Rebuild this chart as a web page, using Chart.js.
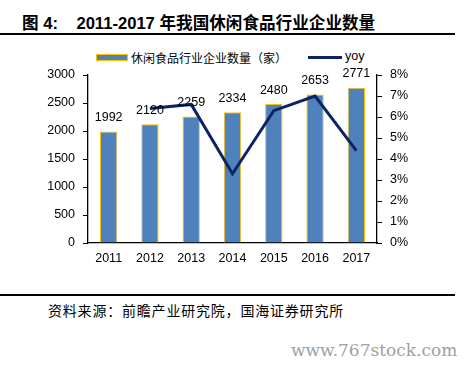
<!DOCTYPE html>
<html>
<head>
<meta charset="utf-8">
<script src="https://cdn.jsdelivr.net/npm/chart.js@4.4.1/dist/chart.umd.min.js"></script>
<style>
  html, body { margin: 0; padding: 0; background: #fff; }
  #wrap { position: relative; width: 471px; height: 369px; overflow: hidden; }
  canvas { position: absolute; left: 0; top: 0; }
  .txt { position: absolute; white-space: nowrap; color: #000; }
  .rule { position: absolute; left: 0; width: 455px; height: 1.5px; background: #000; }
</style>
</head>
<body>
<div id="wrap">
  <div class="txt" id="title" style="left:22px; top:10px; font: bold 16.6px 'Liberation Sans', 'Noto Sans CJK SC', sans-serif;">图 4:&nbsp;&nbsp;&nbsp; 2011-2017 年我国休闲食品行业企业数量</div>
  <div class="rule" style="top:33px;"></div>
  <div style="position:absolute; left:96px; top:54px; width:30px; height:5px; background:#4F81BD; border:1px solid #FFC000;"></div>
  <div class="txt" style="left:131px; top:49px; font: 12px 'Noto Sans CJK SC', sans-serif;">休闲食品行业企业数量（家）</div>
  <div style="position:absolute; left:308px; top:56px; width:34px; height:3px; background:#0C2461;"></div>
  <div class="txt" style="left:345px; top:49px; font: 12.5px 'Liberation Sans', sans-serif;">yoy</div>
  <div class="rule" style="top:294px;"></div>
  <div class="txt" style="left:48px; top:300px; font: 14px 'Noto Sans CJK SC', serif; letter-spacing:0.8px;">资料来源：前瞻产业研究院，国海证券研究所</div>
  <div class="txt" style="left:291px; top:340px; font: 17px 'DejaVu Serif', serif; color:#a0a0a0;">www.767stock.com</div>
  <canvas id="chart" width="471" height="369"></canvas>
</div>
<script>
// values
const years = ['2011', '2012', '2013', '2014', '2015', '2016', '2017'];
const companyCount = [1992, 2120, 2259, 2334, 2480, 2653, 2771];
const yoyPct = [null, 6.4, 6.6, 3.3, 6.3, 7.0, 4.4];

const tickFont = { family: "'Liberation Sans', Arial, sans-serif", size: 12.5 };

// numbers above the bars
const barLabels = {
  id: 'barLabels',
  afterDatasetsDraw(chart) {
    const ctx = chart.ctx;
    const meta = chart.getDatasetMeta(1);
    ctx.save();
    ctx.font = "12.5px 'Liberation Sans', Arial, sans-serif";
    ctx.fillStyle = '#000';
    ctx.textAlign = 'center';
    ctx.textBaseline = 'middle';
    meta.data.forEach((bar, i) => {
      ctx.fillText(String(companyCount[i]), bar.x, bar.y - 14);
    });
    ctx.restore();
  }
};

new Chart(document.getElementById('chart'), {
  data: {
    labels: years,
    datasets: [
      {
        type: 'line',
        data: yoyPct,
        yAxisID: 'yR',
        borderColor: '#0C2461',
        borderWidth: 3,
        pointRadius: 0,
        tension: 0,
        order: 0
      },
      {
        type: 'bar',
        data: companyCount,
        yAxisID: 'yL',
        backgroundColor: '#4F81BD',
        borderColor: '#FFC000',
        borderWidth: 1,
        barPercentage: 0.42,
        categoryPercentage: 1,
        order: 1
      }
    ]
  },
  options: {
    responsive: false,
    animation: false,
    layout: { padding: { top: 75, left: 0, right: 0, bottom: 96 } },
    plugins: { legend: { display: false }, tooltip: { enabled: false } },
    scales: {
      x: {
        grid: { display: false, drawTicks: false },
        border: { color: '#000', width: 1.3 },
        ticks: { color: '#000', font: tickFont, padding: 8 },
        afterFit(s) { s.height = 30; }
      },
      yL: {
        position: 'left',
        min: 0, max: 3000,
        grid: { drawOnChartArea: false, tickLength: 5, color: '#000' },
        border: { color: '#000', width: 1.3 },
        ticks: { stepSize: 500, color: '#000', font: tickFont, padding: 8, callback: v => String(v) },
        afterFit(s) { s.width = 88; }
      },
      yR: {
        position: 'right',
        min: 0, max: 8,
        grid: { drawOnChartArea: false, tickLength: 5, color: '#000' },
        border: { color: '#000', width: 1.3 },
        ticks: { stepSize: 1, color: '#000', font: tickFont, padding: 8, callback: v => v + '%' },
        afterFit(s) { s.width = 94; }
      }
    }
  },
  plugins: [barLabels]
});
</script>
</body>
</html>
